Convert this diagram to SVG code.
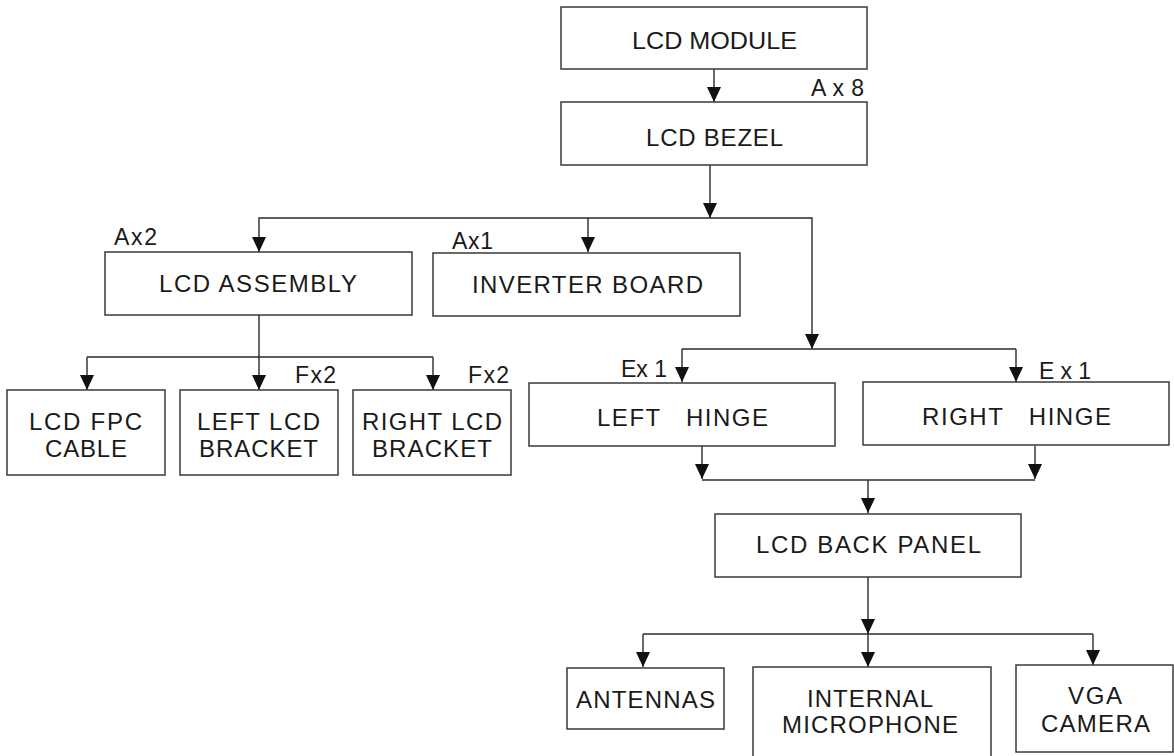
<svg xmlns="http://www.w3.org/2000/svg" width="1174" height="756" viewBox="0 0 1174 756">
<style>
.box{fill:#fff;stroke:#3a3a3a;stroke-width:1.5}
.t{font-family:"Liberation Sans",Arial,sans-serif;font-size:24px;fill:#1a1a1a;text-anchor:middle;white-space:pre}
.s{font-family:"Liberation Sans",Arial,sans-serif;font-size:23px;fill:#1a1a1a;white-space:pre}
.c{fill:none;stroke:#2a2a2a;stroke-width:1.4}
.a{marker-end:url(#ah)}
</style>
<defs>
<marker id="ah" viewBox="0 0 15 14" refX="15" refY="7" markerWidth="15" markerHeight="14" markerUnits="userSpaceOnUse" orient="auto">
<path d="M0,0 L15,7 L0,14 z" fill="#111"/>
</marker>
</defs>
<rect width="1174" height="756" fill="#fff"/>
<g id="connectors">
<path class="c a" d="M714,69 V102"/>
<path class="c a" d="M710,165 V218"/>
<path class="c a" d="M710,218 H259 V252"/>
<path class="c a" d="M588,218 V252"/>
<path class="c a" d="M710,218 H812 V349"/>
<path class="c" d="M682,349 H1016"/>
<path class="c a" d="M682,349 V382"/>
<path class="c a" d="M1016,349 V382"/>
<path class="c" d="M259,315 V357 M87,357 H433"/>
<path class="c a" d="M87,357 V390"/>
<path class="c a" d="M259,357 V390"/>
<path class="c a" d="M433,357 V390"/>
<path class="c a" d="M702,446 V479"/>
<path class="c a" d="M1035,446 V479"/>
<path class="c" d="M702,480 H1035"/>
<path class="c a" d="M868,480 V513"/>
<path class="c a" d="M868,577 V634"/>
<path class="c" d="M643,634 H1093"/>
<path class="c a" d="M643,634 V667"/>
<path class="c a" d="M868,634 V667"/>
<path class="c a" d="M1093,634 V665"/>
</g>
<g id="lcd-module">
<rect class="box" x="561" y="7" width="306" height="62"/>
<text class="t" x="714.5" y="49" textLength="165" lengthAdjust="spacingAndGlyphs">LCD MODULE</text>
</g>
<g id="lcd-bezel">
<text class="s" x="811" y="96" textLength="53">A x 8</text>
<rect class="box" x="561" y="102" width="306" height="63"/>
<text class="t" x="714.5" y="146" textLength="137">LCD BEZEL</text>
</g>
<g id="lcd-assembly">
<text class="s" x="114" y="245" textLength="43">Ax2</text>
<rect class="box" x="105" y="252" width="307" height="63"/>
<text class="t" x="258" y="292" textLength="198">LCD ASSEMBLY</text>
</g>
<g id="inverter-board">
<text class="s" x="452" y="249" textLength="41">Ax1</text>
<rect class="box" x="433" y="253" width="307" height="63"/>
<text class="t" x="587.5" y="293" textLength="231">INVERTER BOARD</text>
</g>
<g id="lcd-fpc-cable">
<rect class="box" x="7" y="390" width="158" height="85"/>
<text class="t" x="85.5" y="430" textLength="113">LCD FPC</text>
<text class="t" x="86" y="457" textLength="82">CABLE</text>
</g>
<g id="left-lcd-bracket">
<text class="s" x="295" y="383" textLength="41">Fx2</text>
<rect class="box" x="180" y="390" width="158" height="85"/>
<text class="t" x="258.5" y="430" textLength="123">LEFT LCD</text>
<text class="t" x="258.5" y="457" textLength="119">BRACKET</text>
</g>
<g id="right-lcd-bracket">
<text class="s" x="468" y="383" textLength="41">Fx2</text>
<rect class="box" x="353" y="390" width="158" height="85"/>
<text class="t" x="432" y="430" textLength="140">RIGHT LCD</text>
<text class="t" x="432" y="457" textLength="120">BRACKET</text>
</g>
<g id="left-hinge">
<text class="s" x="621" y="377" textLength="46">Ex 1</text>
<rect class="box" x="529" y="383" width="306" height="63"/>
<text class="t" x="682.5" y="426" textLength="171">LEFT   HINGE</text>
</g>
<g id="right-hinge">
<text class="s" x="1039" y="379" textLength="52">E x 1</text>
<rect class="box" x="863" y="382" width="306" height="63"/>
<text class="t" x="1016.5" y="425" textLength="189">RIGHT   HINGE</text>
</g>
<g id="lcd-back-panel">
<rect class="box" x="715" y="514" width="306" height="63"/>
<text class="t" x="868.5" y="553" textLength="225">LCD BACK PANEL</text>
</g>
<g id="antennas">
<rect class="box" x="567" y="668" width="157" height="61"/>
<text class="t" x="645.5" y="708" textLength="139">ANTENNAS</text>
</g>
<g id="internal-microphone">
<rect class="box" x="753" y="667" width="238" height="95"/>
<text class="t" x="870" y="707" textLength="126">INTERNAL</text>
<text class="t" x="870" y="733" textLength="176">MICROPHONE</text>
</g>
<g id="vga-camera">
<rect class="box" x="1016" y="665" width="157" height="87"/>
<text class="t" x="1095" y="704" textLength="54">VGA</text>
<text class="t" x="1095.5" y="732" textLength="109">CAMERA</text>
</g>
</svg>
